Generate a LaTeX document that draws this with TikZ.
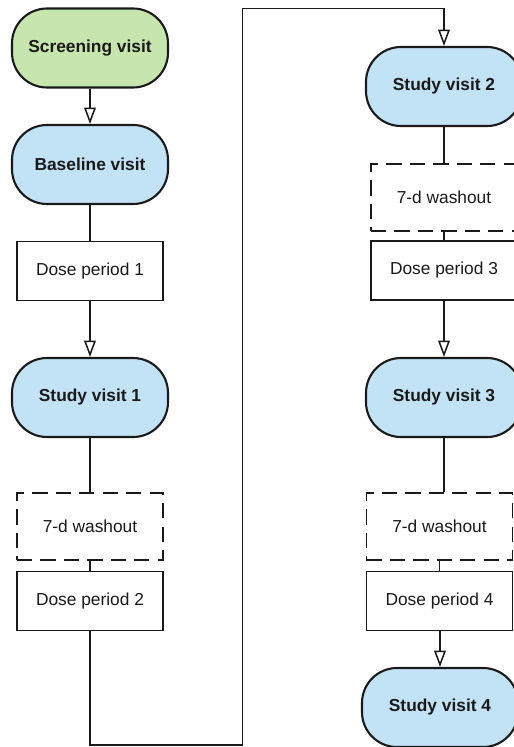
\documentclass[tikz,border=0pt]{standalone}
\usepackage{fontspec}
\setmainfont{Liberation Sans}
\usepackage{tikz}
\usetikzlibrary{arrows.meta,calc}
\definecolor{screengreen}{HTML}{C6E6AD}
\definecolor{visitblue}{HTML}{C2E2F5}
\definecolor{inkgray}{HTML}{1A1A1A}

\begin{document}
\begin{tikzpicture}[x=0.03cm,y=-0.03cm,
  font=\fontsize{14.8}{17}\selectfont,
  visit/.style={draw=inkgray,line width=1.8pt,rounded corners=1.05cm,
    minimum width=4.68cm,minimum height=2.37cm,font=\fontsize{14.8}{17}\selectfont\bfseries,text=inkgray},
  dosebox/.style={draw=inkgray,line width=1.4pt,fill=white,
    minimum width=4.38cm,minimum height=1.77cm,text=inkgray},
  washbox/.style={draw=inkgray,line width=1.4pt,dash pattern=on 13pt off 7pt,
    minimum width=4.38cm,minimum height=2.0cm,text=inkgray},
  link/.style={draw=inkgray,line width=1.3pt},
  >={Triangle[open,width=10pt,length=14pt]}]
\clip (0,0) rectangle (514,747);
\fill[white] (0,0) rectangle (514,747);
% left column
\node[visit,fill=screengreen] (screen) at (90,48) {Screening visit};
\node[visit,fill=visitblue] (base) at (90,164.5) {Baseline visit};
\node[dosebox] (dose1) at (90,271) {Dose period 1};
\node[visit,fill=visitblue] (sv1) at (90,397.5) {Study visit 1};
\node[washbox] (wash1) at (90,526.5) {7-d washout};
\node[dosebox] (dose2) at (90,601) {Dose period 2};
% right column
\node[visit,fill=visitblue] (sv2) at (444,86.5) {Study visit 2};
\node[washbox] (wash2) at (444,197.5) {7-d washout};
\node[dosebox] (dose3) at (444,270.5) {Dose period 3};
\node[visit,fill=visitblue] (sv3) at (444,397.5) {Study visit 3};
\node[washbox] (wash3) at (439.5,526.5) {7-d washout};
\node[dosebox] (dose4) at (439.5,601) {Dose period 4};
\node[visit,fill=visitblue] (sv4) at (440,707.5) {Study visit 4};
% turn-around
\coordinate (lowleft) at (90,745);
\coordinate (lowright) at (242.5,745);
\coordinate (topleft) at (242.5,8.5);
\coordinate (topright) at (444,8.5);
\coordinate (d4out) at (dose4.south -| sv4);
\path[->,inkgray,line width=1.3pt]
(screen) edge (base)
(dose1) edge (sv1)
(dose3) edge (sv3)
(d4out) edge (sv4);
\path[inkgray,line width=1.3pt]
(base) edge (dose1)
(sv1) edge (wash1)
(wash1) edge (dose2)
(sv2) edge (wash2)
(wash2) edge (dose3)
(wash3) edge (dose4);
\draw[link] (sv3.south) -- (sv3.south |- wash3.north);
\draw[link,->] (dose2.south) -- (lowleft) -- (lowright) -- (topleft) -- (topright) -- (sv2.north);
\end{tikzpicture}
\end{document}
